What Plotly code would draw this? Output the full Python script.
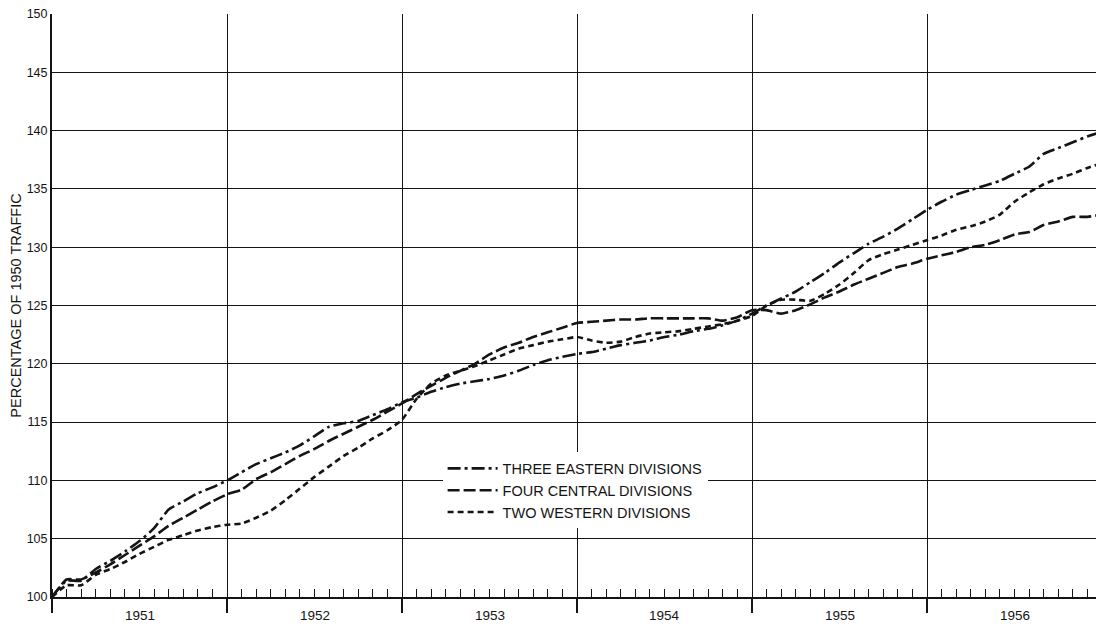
import plotly.graph_objects as go

# Months since January 1951 (0 = start of 1951, 72 = end of 1956)
months = list(range(73))

eastern = [100.0, 101.4, 101.4, 102.4, 103.1, 103.9, 104.8, 105.9, 107.5, 108.2,
           108.9, 109.4, 110.0, 110.7, 111.4, 111.9, 112.4, 113.0, 113.8, 114.6,
           114.9, 115.1, 115.6, 116.1, 116.7, 117.1, 117.6, 118.0, 118.3, 118.5,
           118.7, 119.0, 119.4, 119.9, 120.3, 120.6, 120.85, 121.0, 121.3, 121.6,
           121.8, 122.0, 122.3, 122.5, 122.8, 123.0, 123.3, 123.7, 124.3, 125.0,
           125.6, 126.2, 127.0, 127.8, 128.7, 129.5, 130.3, 130.9, 131.6, 132.4,
           133.2, 133.9, 134.5, 134.9, 135.3, 135.7, 136.3, 136.9, 138.0, 138.5,
           139.0, 139.5, 139.9]

central = [100.0, 101.5, 101.5, 102.1, 102.8, 103.6, 104.4, 105.2, 106.1, 106.8,
           107.5, 108.2, 108.8, 109.2, 110.1, 110.7, 111.4, 112.1, 112.7, 113.4,
           114.0, 114.6, 115.2, 115.9, 116.6, 117.4, 118.1, 118.8, 119.4, 120.0,
           120.8, 121.4, 121.8, 122.3, 122.7, 123.1, 123.5, 123.6, 123.7, 123.8,
           123.8, 123.9, 123.9, 123.9, 123.9, 123.9, 123.7, 124.0, 124.6, 124.6,
           124.3, 124.6, 125.1, 125.7, 126.2, 126.8, 127.3, 127.8, 128.3, 128.6,
           129.0, 129.3, 129.6, 130.0, 130.2, 130.6, 131.1, 131.3, 131.9, 132.2,
           132.6, 132.6, 132.8]

western = [100.0, 101.0, 101.0, 101.9, 102.4, 103.0, 103.7, 104.3, 104.9, 105.3,
           105.7, 106.0, 106.2, 106.3, 106.8, 107.4, 108.3, 109.3, 110.3, 111.2,
           112.1, 112.8, 113.6, 114.3, 115.2, 117.0, 118.3, 119.0, 119.4, 119.8,
           120.3, 120.8, 121.3, 121.6, 121.9, 122.1, 122.3, 122.0, 121.8, 121.9,
           122.3, 122.6, 122.7, 122.8, 123.0, 123.2, 123.4, 123.7, 124.1, 125.0,
           125.5, 125.5, 125.4, 126.0, 126.8, 127.8, 128.9, 129.4, 129.8, 130.2,
           130.6, 131.0, 131.5, 131.8, 132.2, 132.8, 133.9, 134.7, 135.4, 135.9,
           136.3, 136.8, 137.2]

series_names = ["THREE EASTERN DIVISIONS", "FOUR CENTRAL DIVISIONS", "TWO WESTERN DIVISIONS"]
years = ["1951", "1952", "1953", "1954", "1955", "1956"]
year_bounds = [0, 12, 24, 36, 48, 60, 72]
year_centers = [6, 18, 30, 42, 54, 66]
y_ticks = [100, 105, 110, 115, 120, 125, 130, 135, 140, 145, 150]

FONT = "Liberation Sans, Arial, sans-serif"
INK = "#141414"

fig = go.Figure()
styles = ["13px,4px,3px,4px", "12px,4px", "6px,4px"]
for name, vals, dash in zip(series_names, [eastern, central, western], styles):
    fig.add_trace(go.Scatter(
        x=months, y=vals, mode="lines", name=name,
        line=dict(color=INK, width=2.6, dash=dash, shape="spline", smoothing=0.5),
    ))

for xc, label in zip(year_centers, years):
    fig.add_annotation(x=xc, y=0, xref="x", yref="paper", text=label,
                       showarrow=False, yanchor="top", yshift=-9,
                       font=dict(family=FONT, size=13.5, color=INK))

# the page body has an 8px margin, so the figure is 8px smaller and margins compensate
fig.update_layout(
    width=1096, height=622,
    margin=dict(l=44, r=2, t=6, b=33, autoexpand=False),
    paper_bgcolor="white", plot_bgcolor="white",
    showlegend=True,
    legend=dict(x=0.372, y=0.248, xanchor="left", yanchor="top",
                bgcolor="white", borderwidth=0,
                font=dict(family=FONT, size=14.5, color=INK),
                itemwidth=50, tracegroupgap=0),
    font=dict(family=FONT, color=INK),
)

fig.update_xaxes(
    range=[0, 72], tickvals=year_bounds, ticktext=[""] * len(year_bounds),
    ticks="outside", ticklen=14, tickwidth=1.5, tickcolor=INK,
    showgrid=True, gridcolor=INK, gridwidth=1.2,
    showline=True, linecolor=INK, linewidth=2,
    zeroline=False, automargin=False,
    minor=dict(dtick=1, tick0=0, ticks="inside", ticklen=8, tickwidth=1.4,
               tickcolor=INK, showgrid=False),
)
fig.update_yaxes(
    range=[100, 150], tickvals=y_ticks,
    ticks="", showgrid=True, gridcolor=INK, gridwidth=1.2,
    showline=True, linecolor=INK, linewidth=2, zeroline=False,
    automargin=False, ticklabeloverflow="allow",
    tickfont=dict(family=FONT, size=12.5, color=INK),
    title=dict(text="PERCENTAGE OF 1950 TRAFFIC", standoff=4,
               font=dict(family=FONT, size=14.5, color=INK)),
)

fig.write_html("out.html")
